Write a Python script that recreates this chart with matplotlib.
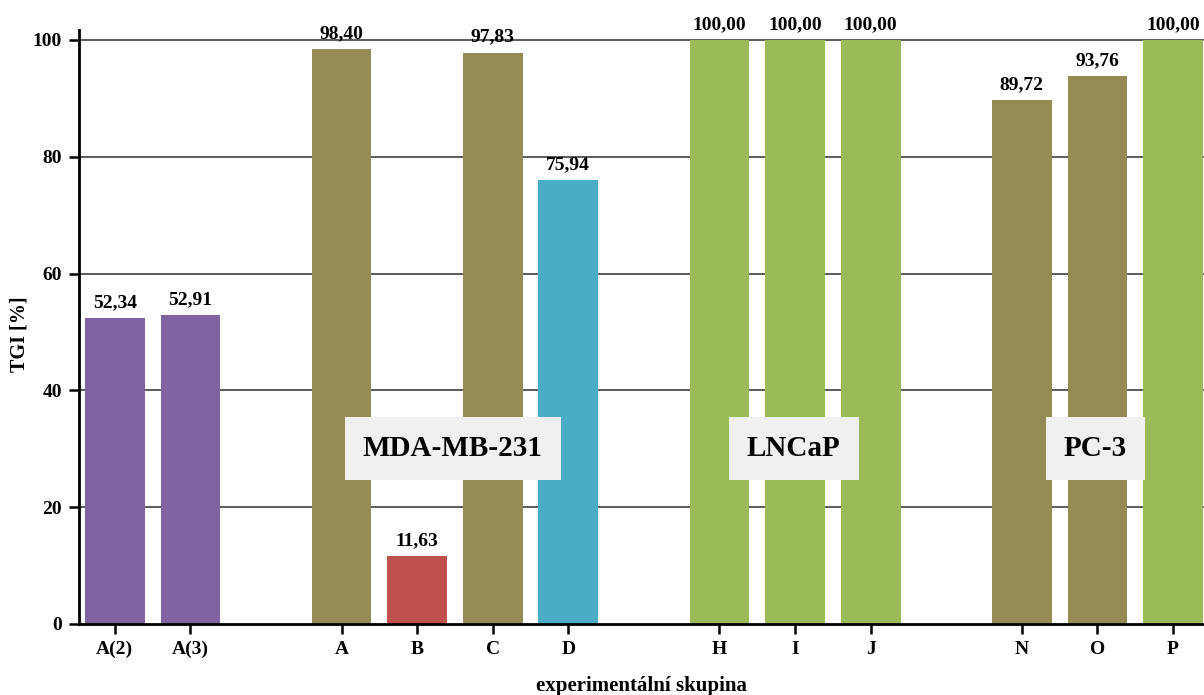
import matplotlib
matplotlib.use("Agg")
import matplotlib.pyplot as plt

categories = ["A(2)", "A(3)", "A", "B", "C", "D", "H", "I", "J", "N", "O", "P"]
slots = [0, 1, 3, 4, 5, 6, 8, 9, 10, 12, 13, 14]
values = [52.34, 52.91, 98.40, 11.63, 97.83, 75.94, 100.00, 100.00, 100.00, 89.72, 93.76, 100.00]
colors = ["#8064A2", "#8064A2", "#948A54", "#C0504D", "#948A54", "#4BACC6",
          "#9BBB59", "#9BBB59", "#9BBB59", "#948A54", "#948A54", "#9BBB59"]
groups = ["MDA-MB-231", "LNCaP", "PC-3"]
group_x = [4.47, 8.98, 12.97]
group_y = 30.1

plt.rcParams['font.family'] = ['Liberation Serif', 'DejaVu Serif']
plt.rcParams['font.weight'] = 'bold'

fig = plt.figure(figsize=(12.04, 6.95), dpi=100)
ax = fig.add_axes([0.0652, 0.1022, 0.9348, 0.8546])

ax.set_xlim(-0.48, 14.41)
ax.set_ylim(0, 101.7)

for y in [20, 40, 60, 80, 100]:
    ax.axhline(y, color="#5a5a5a", lw=1.4, zorder=1)

bars = ax.bar(slots, values, width=0.79, color=colors, zorder=2)
for x, v in zip(slots, values):
    ax.annotate(f"{v:.2f}".replace(".", ","), (x, v), xytext=(0, 5),
                textcoords="offset points", ha="center", va="bottom",
                fontsize=14, fontweight="bold", annotation_clip=False, zorder=4)

for g, gx in zip(groups, group_x):
    ax.text(gx, group_y, g, ha="center", va="center", fontsize=21, fontweight="bold",
            bbox=dict(boxstyle="square,pad=0.62", facecolor="#F0F0F0", edgecolor="none"),
            zorder=5)

ax.set_xticks(slots)
ax.set_xticklabels(categories, fontsize=14, fontweight="bold")
ax.set_yticks([0, 20, 40, 60, 80, 100])
ax.set_yticklabels(["0", "20", "40", "60", "80", "100"], fontsize=14, fontweight="bold")
ax.tick_params(axis="both", direction="out", length=7, width=1.8, pad=5)

for s in ["top", "right"]:
    ax.spines[s].set_visible(False)
for s in ["left", "bottom"]:
    ax.spines[s].set_linewidth(2)
    ax.spines[s].set_color("black")

ax.set_ylabel("TGI [%]", fontsize=14.5, fontweight="bold", va="center")
ax.yaxis.set_label_coords(-0.052, 0.488)
ax.set_xlabel("experimentální skupina", fontsize=15, fontweight="bold", va="center")
ax.xaxis.set_label_coords(0.5, -0.104)

fig.savefig("out.png", dpi=100)
